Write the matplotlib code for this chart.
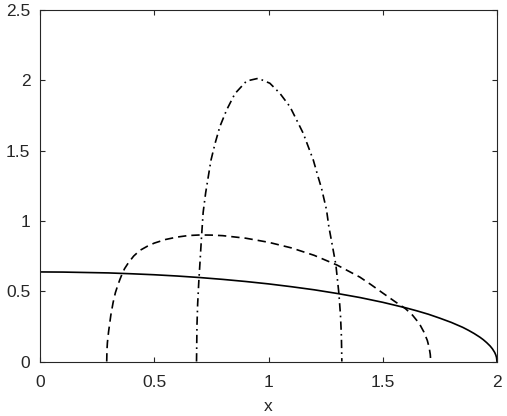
import matplotlib
matplotlib.use("Agg")
import matplotlib.pyplot as plt

# Solid curve
x_solid = [0.0, 0.1, 0.2, 0.3, 0.4, 0.5, 0.6, 0.7, 0.8, 0.9, 1.0, 1.1, 1.2, 1.3,
           1.4, 1.5, 1.6, 1.65, 1.7, 1.75, 1.8, 1.85, 1.875, 1.9, 1.925, 1.94,
           1.955, 1.97, 1.98, 1.99, 1.995, 1.998, 2.0]
y_solid = [0.637, 0.636, 0.633, 0.630, 0.624, 0.617, 0.608, 0.597, 0.584, 0.569,
           0.552, 0.532, 0.510, 0.484, 0.455, 0.421, 0.382, 0.360, 0.336, 0.308,
           0.278, 0.243, 0.222, 0.199, 0.173, 0.155, 0.134, 0.110, 0.090, 0.064,
           0.045, 0.028, 0.0]

# Dashed curve
x_dash = [0.292, 0.293, 0.295, 0.30, 0.31, 0.32, 0.33, 0.34, 0.35, 0.36, 0.37,
          0.386, 0.41, 0.437, 0.47, 0.50, 0.55, 0.60, 0.65, 0.70, 0.75, 0.80,
          0.90, 1.00, 1.10, 1.20, 1.30, 1.40, 1.45, 1.50, 1.55, 1.60, 1.63, 1.66,
          1.68, 1.695, 1.703, 1.708, 1.71]
y_dash = [0.0, 0.08, 0.135, 0.21, 0.33, 0.42, 0.49, 0.54, 0.585, 0.625, 0.66,
          0.70, 0.75, 0.79, 0.82, 0.842, 0.868, 0.885, 0.896, 0.900, 0.899, 0.895,
          0.877, 0.848, 0.808, 0.755, 0.686, 0.600, 0.545, 0.487, 0.430, 0.375,
          0.330, 0.270, 0.210, 0.150, 0.100, 0.050, 0.0]

# Dash-dot curve
x_dd = [0.685, 0.687, 0.69, 0.695, 0.70, 0.707, 0.714, 0.725, 0.736, 0.748, 0.766,
        0.787, 0.817, 0.853, 0.904, 0.955, 1.006, 1.05, 1.094, 1.123, 1.152, 1.174,
        1.196, 1.217, 1.232, 1.254, 1.264, 1.28, 1.295, 1.308, 1.315, 1.319, 1.321]
y_dd = [0.0, 0.26, 0.41, 0.57, 0.70, 0.89, 1.06, 1.20, 1.31, 1.43, 1.55, 1.67,
        1.79, 1.905, 1.995, 2.014, 1.979, 1.907, 1.812, 1.718, 1.623, 1.528, 1.433,
        1.314, 1.232, 1.078, 0.96, 0.82, 0.686, 0.485, 0.33, 0.18, 0.0]

x_ticks = [0, 0.5, 1, 1.5, 2]
x_tick_labels = ["0", "0.5", "1", "1.5", "2"]
y_ticks = [0, 0.5, 1, 1.5, 2, 2.5]
y_tick_labels = ["0", "0.5", "1", "1.5", "2", "2.5"]

plt.rcParams['font.family'] = ['Liberation Sans', 'DejaVu Sans']

fig = plt.figure(figsize=(5.07, 4.16), dpi=100)
ax = fig.add_axes([40/507, 1 - 361.5/416, 457/507, 351.5/416])

lw = 1.2
ax.plot(x_solid, y_solid, color='black', lw=lw, linestyle='-')
ax.plot(x_dash, y_dash, color='black', lw=lw, linestyle=(0, (5, 3)))
ax.plot(x_dd, y_dd, color='black', lw=lw, linestyle=(0, (5, 2.5, 1, 2.5)))

ax.set_xlim(0, 2)
ax.set_ylim(0, 2.5)
ax.set_xticks(x_ticks)
ax.set_xticklabels(x_tick_labels)
ax.set_yticks(y_ticks)
ax.set_yticklabels(y_tick_labels)

gray = '#262626'
for s in ax.spines.values():
    s.set_color(gray)
    s.set_linewidth(0.8)
ax.tick_params(direction='in', length=3.5, width=0.8, colors=gray,
               labelsize=12.5, top=True, right=True, labeltop=False, labelright=False)
ax.tick_params(axis='x', pad=10)
ax.tick_params(axis='y', pad=7)
ax.set_xlabel('x', fontsize=12.5, color=gray, labelpad=6)

fig.savefig('out.png', dpi=100)
